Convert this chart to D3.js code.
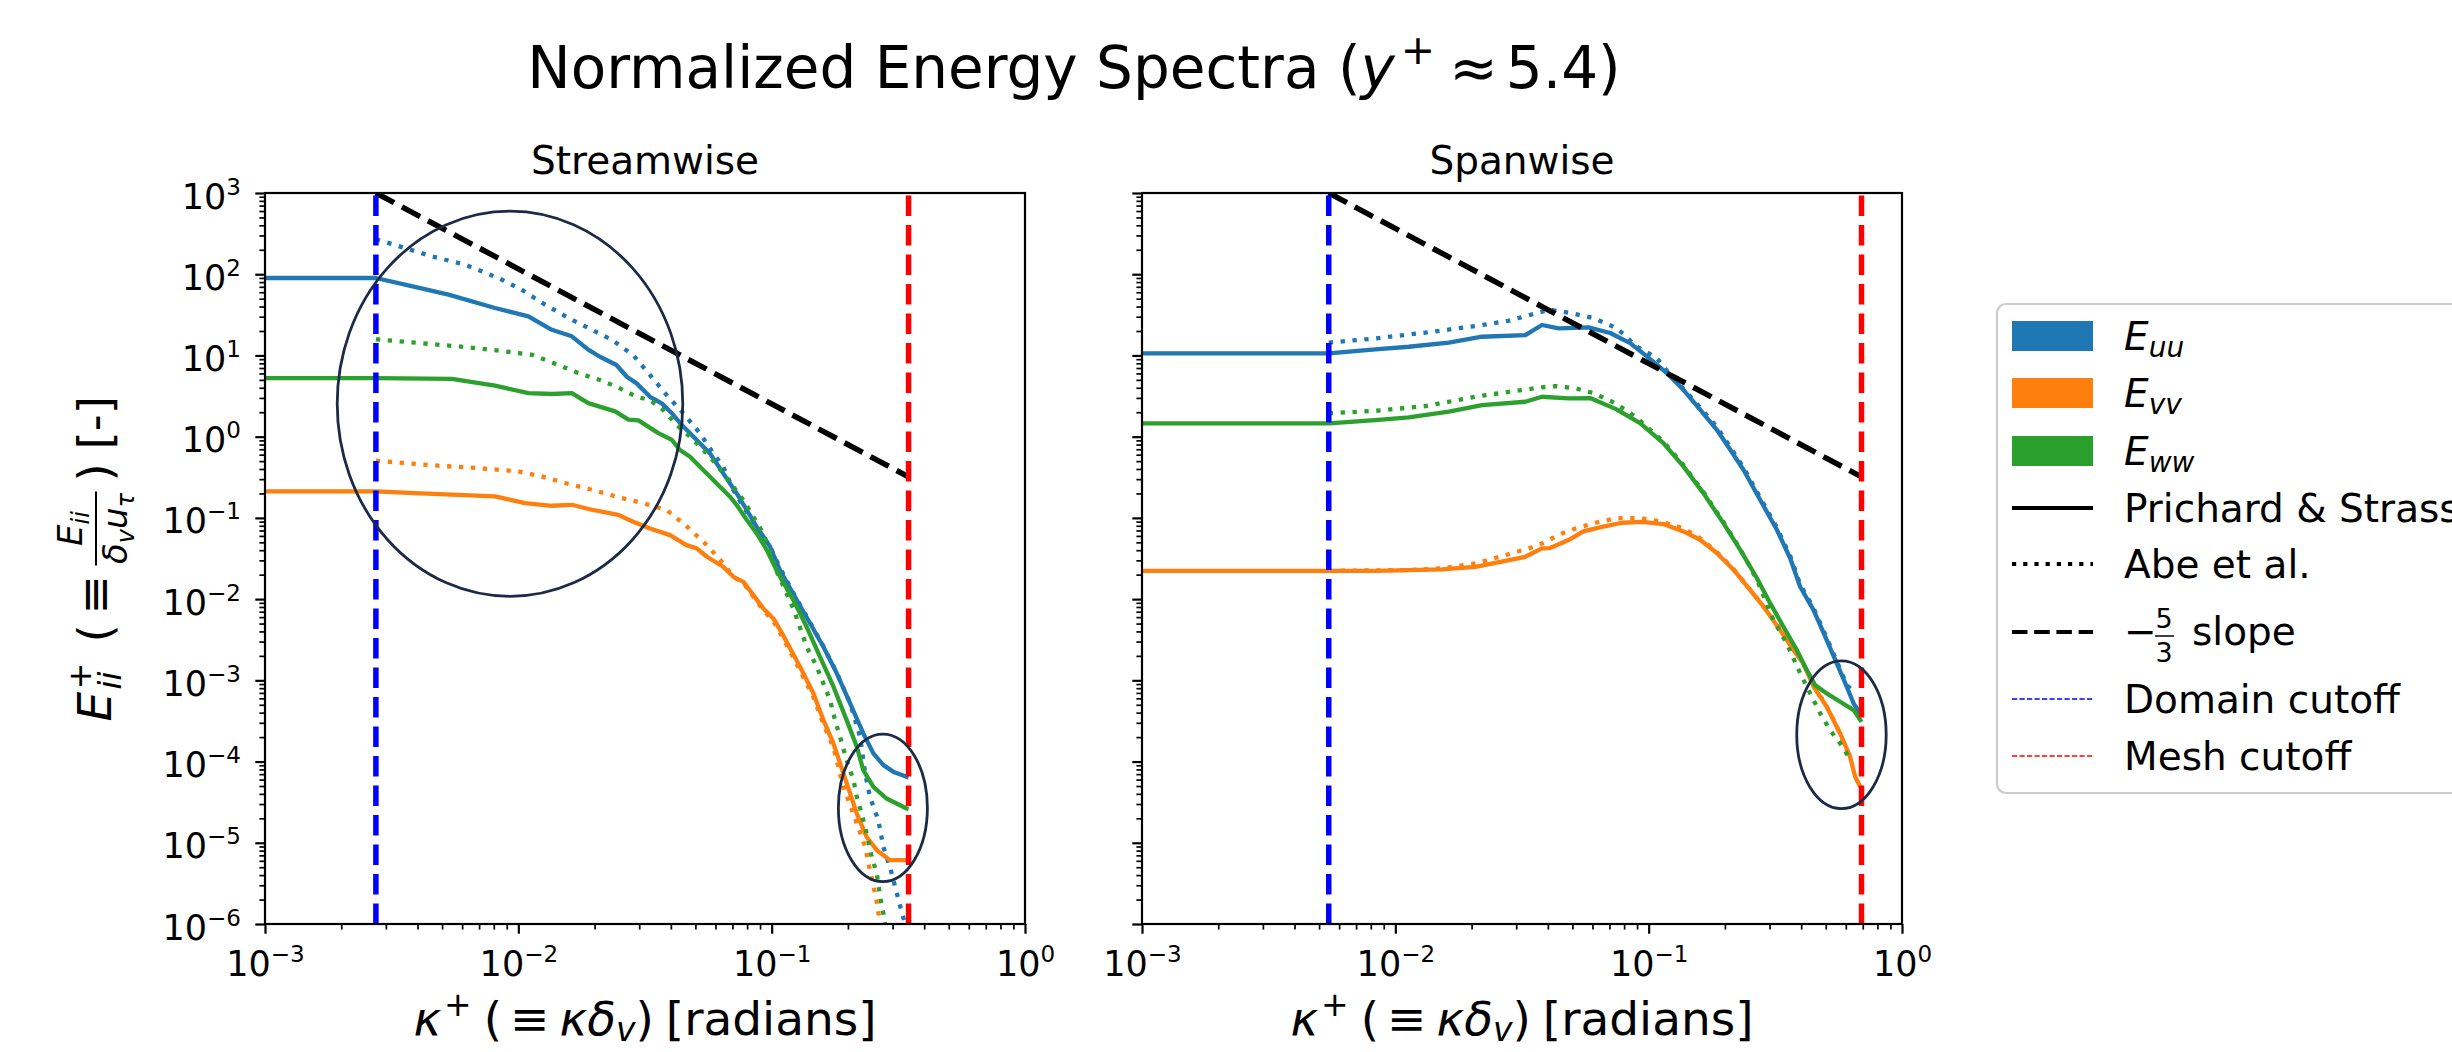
<!DOCTYPE html>
<html><head><meta charset="utf-8">
<script src="https://cdn.jsdelivr.net/npm/d3@7"></script>
<style>body{margin:0;background:#fff;overflow:hidden}svg{display:block}</style>
</head><body>
<svg id="c" width="2452" height="1052"></svg>
<script>
// ---------------- DATA ----------------
const kDomainStream = 0.00274, kMeshStream = 0.347;
const kDomainSpan = 0.00546, kMeshSpan = 0.692;

const xTickValues = [1e-3, 1e-2, 1e-1, 1];
const xTickExp = ["−3", "−2", "−1", "0"];
const yTickValues = [1e-6, 1e-5, 1e-4, 1e-3, 1e-2, 1e-1, 1, 10, 100, 1000];
const yTickExp = ["−6", "−5", "−4", "−3", "−2", "−1", "0", "1", "2", "3"];

// Streamwise — Prichard & Strasser (solid)
const sw_uu_ps = [[0.001,89.8],[0.00274,89.8],[0.00357,74.3],[0.0053,56.0],[0.00809,38.4],[0.01096,30.3],[0.01355,20.7],[0.01626,17.2],[0.01888,11.8],[0.021,9.64],[0.0244,7.62],[0.0268,5.47],[0.0293,4.53],[0.0331,3.10],[0.0368,2.57],[0.0404,1.94],[0.0442,1.39],[0.0506,0.908],[0.0571,0.622],[0.0644,0.353],[0.0728,0.200],[0.0798,0.125],[0.0873,0.0776],[0.0986,0.0441],[0.108,0.0224],[0.1256,0.00973],[0.1419,0.00501],[0.160,0.00259],[0.1807,0.00122],[0.204,5.2e-4],[0.230,2.22e-4],[0.252,1.26e-4],[0.276,9.04e-5],[0.303,7.46e-5],[0.341,6.49e-5],[0.347,6.4e-5]];
const sw_vv_ps = [[0.001,0.212],[0.00274,0.212],[0.00391,0.202],[0.00546,0.193],[0.00809,0.184],[0.01062,0.152],[0.01355,0.141],[0.01626,0.145],[0.0195,0.126],[0.0248,0.109],[0.0284,0.0895],[0.0331,0.0741],[0.0397,0.0614],[0.0461,0.0462],[0.0506,0.0421],[0.0555,0.0332],[0.0644,0.0250],[0.0706,0.0188],[0.0773,0.0163],[0.0847,0.0112],[0.0927,0.00767],[0.1016,0.00578],[0.1112,0.00355],[0.1294,0.00147],[0.1462,6.9e-4],[0.160,3.24e-4],[0.1754,1.67e-4],[0.1919,7.14e-5],[0.204,4.06e-5],[0.2168,2.29e-5],[0.2371,1.18e-5],[0.260,8.11e-6],[0.293,6.11e-6],[0.341,6.11e-6],[0.347,6.1e-6]];
const sw_ww_ps = [[0.001,5.27],[0.00274,5.27],[0.00546,5.16],[0.00809,4.24],[0.01096,3.44],[0.01355,3.35],[0.01626,3.44],[0.01888,2.59],[0.0241,2.05],[0.0272,1.62],[0.0298,1.585],[0.0357,1.107],[0.0403,0.916],[0.0435,0.684],[0.0476,0.566],[0.0521,0.427],[0.0571,0.321],[0.0625,0.242],[0.0685,0.182],[0.0728,0.144],[0.0798,0.0940],[0.0873,0.0644],[0.0957,0.0401],[0.1047,0.0224],[0.1219,0.00973],[0.1374,0.00456],[0.1552,0.00195],[0.1754,8.34e-4],[0.1977,3.24e-4],[0.2168,1.52e-4],[0.230,7.83e-5],[0.252,4.89e-5],[0.284,3.51e-5],[0.341,2.64e-5],[0.347,2.6e-5]];
// Streamwise — Abe et al. (dotted)
const sw_uu_abe = [[0.00274,270],[0.00357,210],[0.00455,166],[0.00617,131],[0.00834,89.8],[0.0103,64.6],[0.01274,42.2],[0.01578,28.9],[0.0195,20.7],[0.0234,15.6],[0.0284,10.1],[0.0331,5.74],[0.0385,3.25],[0.0448,1.94],[0.0521,1.10],[0.0589,0.622],[0.0644,0.427],[0.0706,0.220],[0.0773,0.137],[0.0873,0.0776],[0.0986,0.0441],[0.108,0.0240],[0.1256,0.0100],[0.142,0.00513],[0.160,0.00263],[0.181,0.00123],[0.204,5.25e-4],[0.2234,2.01e-4],[0.234,7.13e-5],[0.2443,3.67e-5],[0.2636,1.90e-5],[0.276,8.91e-6],[0.293,5.05e-6],[0.312,2.38e-6],[0.327,1.35e-6],[0.3365,1.0e-6],[0.347,6.3e-7]];
const sw_vv_abe = [[0.00274,0.506],[0.00357,0.473],[0.00483,0.439],[0.00695,0.410],[0.0100,0.373],[0.01236,0.324],[0.01528,0.269],[0.0195,0.222],[0.0248,0.180],[0.0312,0.151],[0.0385,0.125],[0.0457,0.0813],[0.0555,0.0462],[0.0644,0.0275],[0.0706,0.0188],[0.0773,0.0158],[0.0847,0.0107],[0.0927,0.00724],[0.1016,0.00537],[0.1112,0.00324],[0.1294,0.00132],[0.1462,6.17e-4],[0.160,2.88e-4],[0.1754,1.48e-4],[0.1919,4.89e-5],[0.2168,1.73e-5],[0.234,8.91e-6],[0.2443,4.60e-6],[0.260,1.87e-6],[0.268,1.0e-6],[0.275,5.0e-7]];
const sw_ww_abe = [[0.00274,15.8],[0.00442,13.9],[0.00617,12.7],[0.00834,11.5],[0.0113,10.2],[0.01396,7.91],[0.01726,6.07],[0.021,4.98],[0.0244,4.12],[0.0293,3.10],[0.0331,2.82],[0.0373,2.13],[0.0422,1.39],[0.0476,0.998],[0.0521,0.752],[0.0571,0.566],[0.0644,0.353],[0.0706,0.242],[0.0773,0.166],[0.0847,0.103],[0.0927,0.0644],[0.1047,0.0219],[0.1219,0.00759],[0.1374,0.00259],[0.1507,0.00147],[0.160,9.14e-4],[0.170,5.70e-4],[0.1778,3.24e-4],[0.1862,2.01e-4],[0.1977,1.04e-4],[0.2104,5.90e-5],[0.2168,3.67e-5],[0.2265,2.29e-5],[0.2371,1.30e-5],[0.2483,6.71e-6],[0.260,4.19e-6],[0.268,2.16e-6],[0.276,1.35e-6],[0.2805,1.01e-6],[0.288,5.0e-7]];

// Spanwise — Prichard & Strasser (solid)
const sp_uu_ps = [[0.001,10.6],[0.00546,10.6],[0.00834,11.9],[0.0113,12.8],[0.01626,14.4],[0.022,17.0],[0.0326,17.8],[0.0379,23.7],[0.0442,21.5],[0.0579,22.2],[0.0705,18.9],[0.0845,14.2],[0.0984,9.75],[0.118,6.07],[0.1371,3.78],[0.1596,2.15],[0.1858,1.216],[0.210,0.690],[0.2366,0.392],[0.2754,0.167],[0.3206,0.0714],[0.3622,0.0316],[0.3963,0.0142],[0.4477,0.00731],[0.5047,0.00313],[0.5534,0.00161],[0.6053,8.34e-4],[0.6442,5.20e-4],[0.684,3.91e-4]];
const sp_vv_ps = [[0.001,0.0223],[0.00546,0.0223],[0.00834,0.0223],[0.01528,0.0232],[0.0207,0.0250],[0.0326,0.0332],[0.0379,0.0421],[0.0408,0.0425],[0.0483,0.0533],[0.0552,0.0681],[0.0655,0.0776],[0.0785,0.0871],[0.0942,0.0895],[0.1143,0.0839],[0.1371,0.0681],[0.1596,0.0538],[0.1858,0.0369],[0.2163,0.0230],[0.2512,0.0130],[0.2838,0.00813],[0.3304,0.00415],[0.3733,0.00235],[0.4083,0.00161],[0.4477,8.34e-4],[0.5047,4.73e-4],[0.570,2.22e-4],[0.6237,1.15e-4],[0.6531,6.5e-5],[0.684,4.89e-5]];
const sp_ww_ps = [[0.001,1.46],[0.00546,1.46],[0.00834,1.60],[0.0113,1.73],[0.01626,2.03],[0.022,2.45],[0.0326,2.69],[0.0379,3.10],[0.0483,2.96],[0.0587,2.99],[0.074,2.2],[0.0925,1.469],[0.1143,0.834],[0.1371,0.431],[0.1644,0.202],[0.1972,0.0863],[0.2296,0.0406],[0.2673,0.0182],[0.302,0.00885],[0.3404,0.00456],[0.3846,0.00235],[0.4207,0.00134],[0.4539,8.73e-4],[0.5047,6.90e-4],[0.570,5.45e-4],[0.6442,4.30e-4],[0.692,3.08e-4]];
// Spanwise — Abe et al. (dotted)
const sp_uu_abe = [[0.00546,14.4],[0.00834,16.2],[0.01315,19.1],[0.0207,23.0],[0.0281,26.8],[0.0379,34.6],[0.0416,36.2],[0.049,33.3],[0.0605,28.9],[0.0748,21.7],[0.0897,12.9],[0.1076,9.29],[0.1216,5.79],[0.1371,3.9],[0.1596,2.29],[0.1858,1.32],[0.210,0.741],[0.2366,0.417],[0.2754,0.178],[0.3206,0.0759],[0.3622,0.0339],[0.3963,0.0151],[0.4477,0.00776],[0.5047,0.00331],[0.5534,0.00170],[0.6053,8.71e-4],[0.634,7.59e-4]];
const sp_vv_abe = [[0.00546,0.0223],[0.0113,0.0228],[0.01528,0.0239],[0.0207,0.0275],[0.0281,0.0358],[0.0336,0.0421],[0.0379,0.0484],[0.0455,0.0644],[0.0514,0.0741],[0.0617,0.0871],[0.074,0.0984],[0.0818,0.0995],[0.0925,0.0995],[0.1109,0.0904],[0.1371,0.0748],[0.1596,0.0562],[0.1858,0.0380],[0.2163,0.0234],[0.2512,0.0132],[0.2838,0.00813],[0.3508,0.00344],[0.3846,0.00214],[0.4207,0.00134],[0.4613,7.57e-4],[0.5047,4.73e-4],[0.5534,2.69e-4],[0.6053,1.38e-4]];
const sp_ww_abe = [[0.00546,1.94],[0.00834,2.08],[0.01315,2.38],[0.0207,3.10],[0.0281,3.57],[0.0379,4.05],[0.0429,4.20],[0.0514,3.94],[0.0605,3.44],[0.074,2.57],[0.0887,1.76],[0.1143,0.871],[0.1371,0.447],[0.1644,0.209],[0.1972,0.0891],[0.2296,0.0417],[0.2673,0.0174],[0.3105,0.00551],[0.3508,0.00284],[0.3963,0.00122],[0.4477,5.70e-4],[0.4753,3.91e-4],[0.520,2.44e-4],[0.570,1.67e-4],[0.6152,1.15e-4]];

// -5/3 reference slope lines
const sw_slope = [[0.00274,1000],[0.347,0.32]];
const sp_slope = [[0.00546,1000],[0.692,0.32]];

// highlight ellipses: [k centre, E centre, half-width (decades), half-height (decades)]
const ellStream = [[0.00927,2.54,0.682,2.371],[0.2748,2.69e-5,0.1757,0.909]];
const ellSpan = [[0.5768,2.14e-4,0.1765,0.909]];

// ---------------- DRAWING ----------------
const FONT = "'DejaVu Sans', sans-serif";
const COL = {uu:"#1f77b4", vv:"#ff7f0e", ww:"#2ca02c"};
const svg = d3.select("#c").attr("font-family", FONT);
svg.append("rect").attr("width",2452).attr("height",1052).attr("fill","#fff");

const yTop = 193, yBot = 924;
const panels = [
  {id:"sw", x0:265, x1:1025, title:"Streamwise",
   ps:{uu:sw_uu_ps, vv:sw_vv_ps, ww:sw_ww_ps}, abe:{uu:sw_uu_abe, vv:sw_vv_abe, ww:sw_ww_abe},
   slope:sw_slope, cut:[kDomainStream,kMeshStream], ell:ellStream, ylab:true},
  {id:"sp", x0:1142, x1:1902, title:"Spanwise",
   ps:{uu:sp_uu_ps, vv:sp_vv_ps, ww:sp_ww_ps}, abe:{uu:sp_uu_abe, vv:sp_vv_abe, ww:sp_ww_abe},
   slope:sp_slope, cut:[kDomainSpan,kMeshSpan], ell:ellSpan, ylab:false}
];

const minorX = [], minorY = [];
for (let e=-3;e<0;e++) for (let m=2;m<=9;m++) minorX.push(m*Math.pow(10,e));
for (let e=-6;e<3;e++) for (let m=2;m<=9;m++) minorY.push(m*Math.pow(10,e));

function supLabel(sel, exp, sizeSup, dySup){
  sel.text(null);
  sel.append("tspan").text("10");
  sel.append("tspan").attr("font-size",sizeSup).attr("dy",dySup).text(exp);
}

panels.forEach(p=>{
  const x = d3.scaleLog().domain([1e-3,1]).range([p.x0,p.x1]);
  const y = d3.scaleLog().domain([1e-6,1e3]).range([yBot,yTop]);
  const g = svg.append("g");
  const clipId = "clip-"+p.id;
  svg.append("defs").append("clipPath").attr("id",clipId)
    .append("rect").attr("x",p.x0).attr("y",yTop).attr("width",p.x1-p.x0).attr("height",yBot-yTop);
  const plot = g.append("g").attr("clip-path",`url(#${clipId})`);
  const line = d3.line().x(d=>x(d[0])).y(d=>y(d[1]));

  ["uu","vv","ww"].forEach(c=>{
    plot.append("path").datum(p.ps[c]).attr("d",line).attr("fill","none")
      .attr("stroke",COL[c]).attr("stroke-width",4.3).attr("stroke-linejoin","round");
    plot.append("path").datum(p.abe[c]).attr("d",line).attr("fill","none")
      .attr("stroke",COL[c]).attr("stroke-width",4.3).attr("stroke-dasharray","4.3,7.6");
  });
  // slope
  plot.append("path").datum(p.slope).attr("d",line).attr("fill","none")
    .attr("stroke","#000").attr("stroke-width",5.5).attr("stroke-dasharray","20.6,8.9");
  // cutoffs
  [[p.cut[0],"#0000ff"],[p.cut[1],"#ff0000"]].forEach(([k,col])=>{
    plot.append("path").datum([[k,1e-6],[k,1e3]]).attr("d",line).attr("fill","none")
      .attr("stroke",col).attr("stroke-width",5.5).attr("stroke-dasharray","20.6,8.9");
  });
  // ellipses
  p.ell.forEach(e=>{
    const cx = x(e[0]), cy = y(e[1]);
    const rx = x(e[0]*Math.pow(10,e[2]))-cx, ry = cy-y(e[1]*Math.pow(10,e[3]));
    plot.append("ellipse").attr("cx",cx).attr("cy",cy).attr("rx",rx).attr("ry",ry)
      .attr("fill","none").attr("stroke","#1b2b47").attr("stroke-width",2.8);
  });

  // axes
  const gxMinor = g.append("g").attr("transform",`translate(0,${yBot})`)
    .call(d3.axisBottom(x).tickValues(minorX).tickSize(5.6).tickFormat(""));
  const gx = g.append("g").attr("transform",`translate(0,${yBot})`)
    .call(d3.axisBottom(x).tickValues(xTickValues).tickSize(9.7).tickFormat(""));
  const gyMinor = g.append("g").attr("transform",`translate(${p.x0},0)`)
    .call(d3.axisLeft(y).tickValues(minorY).tickSize(5.6).tickFormat(""));
  const gy = g.append("g").attr("transform",`translate(${p.x0},0)`)
    .call(d3.axisLeft(y).tickValues(yTickValues).tickSize(9.7).tickFormat(""));
  [gxMinor,gx,gyMinor,gy].forEach(a=>a.select(".domain").remove());
  [gxMinor,gyMinor].forEach(a=>a.selectAll(".tick line").attr("stroke","#000").attr("stroke-width",1.7));
  [gx,gy].forEach(a=>a.selectAll(".tick line").attr("stroke","#000").attr("stroke-width",2.2));

  gx.selectAll(".tick text").each(function(d,i){
    const t = d3.select(this).attr("y",52).attr("dy",null).attr("font-size",35)
      .attr("font-family",FONT).attr("fill","#000").attr("text-anchor","middle");
    supLabel(t, xTickExp[xTickValues.indexOf(d)], 23, -14);
  });
  if (p.ylab){
    gy.selectAll(".tick text").each(function(d){
      const t = d3.select(this).attr("x",-24).attr("y",15).attr("dy",null).attr("font-size",35)
        .attr("font-family",FONT).attr("fill","#000").attr("text-anchor","end");
      supLabel(t, yTickExp[yTickValues.indexOf(d)], 23, -14);
    });
  } else {
    gy.selectAll(".tick text").remove();
  }

  // spines
  g.append("rect").attr("x",p.x0).attr("y",yTop).attr("width",p.x1-p.x0).attr("height",yBot-yTop)
    .attr("fill","none").attr("stroke","#000").attr("stroke-width",2.2);

  // subplot title
  g.append("text").attr("x",(p.x0+p.x1)/2).attr("y",174).attr("text-anchor","middle")
    .attr("font-size",39).text(p.title);

  // x label
  const xl = g.append("text").attr("x",(p.x0+p.x1)/2).attr("y",1035).attr("text-anchor","middle")
    .attr("font-size",47);
  xl.append("tspan").attr("font-style","italic").text("κ");
  xl.append("tspan").attr("font-size",33).attr("dy",-19).attr("dx",3).text("+");
  xl.append("tspan").attr("dy",19).attr("dx",12).text("(");
  xl.append("tspan").attr("dx",8).text("≡");
  xl.append("tspan").attr("dx",10).attr("font-style","italic").text("κδ");
  xl.append("tspan").attr("font-style","italic").attr("font-size",33).attr("dy",6).text("v");
  xl.append("tspan").attr("dy",-6).text(")");
  xl.append("tspan").attr("dx",12).text("[radians]");
});

// y label (left panel only), rotated
const yl = svg.append("g").attr("transform","translate(111,558.5) rotate(-90)").attr("font-size",47);
yl.append("text").attr("x",-163).attr("y",0).attr("font-style","italic").text("E");
yl.append("text").attr("x",-131).attr("y",10).attr("font-style","italic").attr("font-size",32).text("ii");
yl.append("text").attr("x",-131).attr("y",-20).attr("font-size",32).text("+");
yl.append("text").attr("x",-84).attr("y",0).text("(");
yl.append("text").attr("x",-56).attr("y",0).text("≡");
yl.append("line").attr("x1",-7).attr("x2",67).attr("y1",-15).attr("y2",-15).attr("stroke","#000").attr("stroke-width",2);
const yn = yl.append("text").attr("x",30).attr("y",-29).attr("text-anchor","middle").attr("font-size",34);
yn.append("tspan").attr("font-style","italic").text("E");
yn.append("tspan").attr("font-style","italic").attr("font-size",24).attr("dy",7).text("ii");
const yd = yl.append("text").attr("x",30).attr("y",16).attr("text-anchor","middle").attr("font-size",34);
yd.append("tspan").attr("font-style","italic").text("δ");
yd.append("tspan").attr("font-style","italic").attr("font-size",24).attr("dy",7).text("v");
yd.append("tspan").attr("font-style","italic").attr("dy",-7).text("u");
yd.append("tspan").attr("font-style","italic").attr("font-size",24).attr("dy",7).text("τ");
yl.append("text").attr("x",77).attr("y",0).text(")");
yl.append("text").attr("x",109).attr("y",0).text("[-]");

// title
const tt = svg.append("text").attr("x",1074).attr("y",88).attr("text-anchor","middle").attr("font-size",58);
tt.append("tspan").text("Normalized Energy Spectra (");
tt.append("tspan").attr("font-style","italic").text("y");
tt.append("tspan").attr("font-size",41).attr("dy",-24).attr("dx",6).text("+");
tt.append("tspan").attr("dy",24).attr("dx",14).text("≈");
tt.append("tspan").attr("dx",8).text("5.4)");

// legend
const lg = svg.append("g");
lg.append("rect").attr("x",1997).attr("y",304).attr("width",620).attr("height",489).attr("rx",9)
  .attr("fill","#fff").attr("stroke","#cccccc").attr("stroke-width",2.2);
const LX0 = 2012, LX1 = 2093, TX = 2124;
const patchRows = [[336,"uu",COL.uu],[393,"vv",COL.vv],[451,"ww",COL.ww]];
patchRows.forEach(([cy,sub,col])=>{
  lg.append("rect").attr("x",LX0).attr("y",cy-15).attr("width",LX1-LX0).attr("height",30).attr("fill",col);
  const t = lg.append("text").attr("x",TX).attr("y",cy+14).attr("font-size",39);
  t.append("tspan").attr("font-style","italic").text("E");
  t.append("tspan").attr("font-style","italic").attr("font-size",28).attr("dy",7).text(sub);
});
const lineRows = [
  [508,"#000",4.2,null,"Prichard & Strasser"],
  [564,"#000",4.2,"4.2,7",  "Abe et al."],
  [632,"#000",4.2,"15.5,6.7",null],
  [699,"#0000ff",1.4,"5.2,2.3","Domain cutoff"],
  [756,"#ff0000",1.4,"5.2,2.3","Mesh cutoff"]
];
lineRows.forEach(([cy,col,w,dash,label])=>{
  const l = lg.append("line").attr("x1",LX0).attr("x2",LX1).attr("y1",cy).attr("y2",cy)
    .attr("stroke",col).attr("stroke-width",w);
  if (dash) l.attr("stroke-dasharray",dash);
  if (label) lg.append("text").attr("x",TX).attr("y",cy+14).attr("font-size",39).text(label);
});
// "−5/3 slope"
lg.append("text").attr("x",TX).attr("y",645).attr("font-size",39).text("−");
lg.append("text").attr("x",2164).attr("y",628).attr("font-size",27).attr("text-anchor","middle").text("5");
lg.append("line").attr("x1",2155).attr("x2",2174).attr("y1",636).attr("y2",636).attr("stroke","#000").attr("stroke-width",1.5);
lg.append("text").attr("x",2164).attr("y",662).attr("font-size",27).attr("text-anchor","middle").text("3");
lg.append("text").attr("x",2192).attr("y",645).attr("font-size",39).text("slope");
</script>
</body></html>
